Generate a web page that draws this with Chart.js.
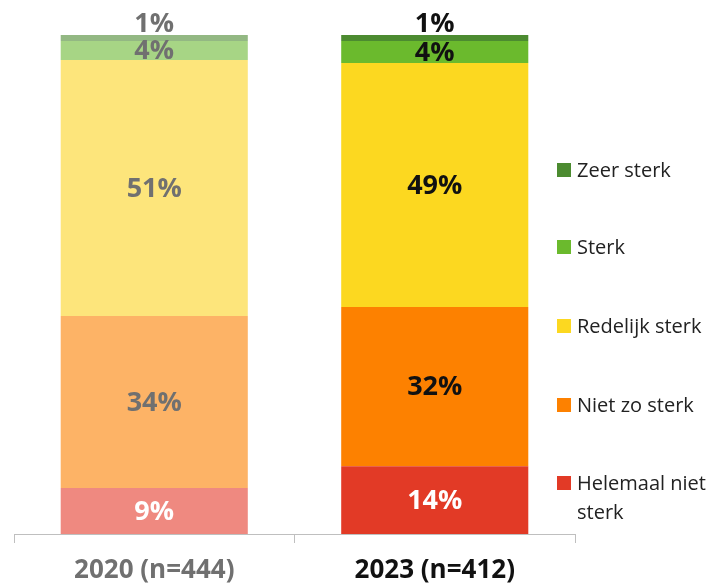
<!DOCTYPE html>
<html>
<head>
<meta charset="utf-8">
<script src="https://cdn.jsdelivr.net/npm/chart.js@4"></script>
<style>
  body { margin: 0; background: #fff; }
  #wrap { width: 712px; height: 585px; }
</style>
</head>
<body>
<div id="wrap"><canvas id="grafico"></canvas></div>
<script>
const jaren = ['2020 (n=444)', '2023 (n=412)'];
const antwoorden = ['Helemaal niet sterk', 'Niet zo sterk', 'Redelijk sterk', 'Sterk', 'Zeer sterk'];

// aandeel per antwoord, [2020, 2023]
const helemaalNiet = [9.2, 13.6];
const nietZo = [34.5, 31.9];
const redelijk = [51.3, 48.9];
const sterk = [3.8, 4.4];
const zeerSterk = [1.2, 1.2];

// getoonde labels
const labelsHelemaalNiet = ['9%', '14%'];
const labelsNietZo = ['34%', '32%'];
const labelsRedelijk = ['51%', '49%'];
const labelsSterk = ['4%', '4%'];
const labelsZeerSterk = ['1%', '1%'];

const kleurVol = ['#e23a26', '#fd8100', '#fcd820', '#6bba2d', '#4c8b30'];
const kleurLicht = ['#ef8980', '#fdb366', '#fde57b', '#a7d585', '#93b883'];
const tekstKleur = [
  ['#ffffff', '#ffffff'],
  ['#707070', '#111111'],
  ['#707070', '#111111'],
  ['#707070', '#111111'],
  ['#707070', '#111111']
];

const waarden = [helemaalNiet, nietZo, redelijk, sterk, zeerSterk];
const labels = [labelsHelemaalNiet, labelsNietZo, labelsRedelijk, labelsSterk, labelsZeerSterk];

const FONT = '"Open Sans", sans-serif';

const labelPlugin = {
  id: 'barLabels',
  afterDatasetsDraw(chart) {
    const ctx = chart.ctx;
    ctx.save();
    ctx.font = 'bold 27px ' + FONT;
    ctx.textAlign = 'center';
    ctx.textBaseline = 'middle';
    chart.data.datasets.forEach((ds, d) => {
      const meta = chart.getDatasetMeta(d);
      meta.data.forEach((bar, i) => {
        let y = (bar.y + bar.base) / 2;
        if (d === chart.data.datasets.length - 1) y = bar.y - 12;
        ctx.fillStyle = tekstKleur[d][i];
        ctx.fillText(labels[d][i], bar.x, y + 1);
      });
    });
    ctx.restore();
  }
};

const legendPlugin = {
  id: 'zijLegenda',
  afterDraw(chart) {
    const ctx = chart.ctx;
    ctx.save();
    ctx.font = '20px ' + FONT;
    ctx.textBaseline = 'middle';
    const ys = [483, 405, 326, 247, 170];
    antwoorden.forEach((naam, d) => {
      const y = ys[d];
      ctx.fillStyle = kleurVol[d];
      ctx.fillRect(557, y - 7, 14, 14);
      ctx.fillStyle = '#222222';
      if (naam === 'Helemaal niet sterk') {
        ctx.fillText('Helemaal niet', 577, y + 1);
        ctx.fillText('sterk', 577, y + 30);
      } else {
        ctx.fillText(naam, 577, y + 1);
      }
    });
    ctx.restore();
  }
};

const datasets = antwoorden.map((naam, d) => ({
  label: naam,
  data: waarden[d],
  backgroundColor: [kleurLicht[d], kleurVol[d]],
  borderWidth: 0,
  barPercentage: 1,
  categoryPercentage: 0.667
}));

new Chart(document.getElementById('grafico'), {
  type: 'bar',
  data: { labels: jaren, datasets: datasets },
  options: {
    responsive: true,
    maintainAspectRatio: false,
    animation: false,
    layout: { padding: { top: 35, right: 137, left: 14, bottom: 0 } },
    plugins: {
      legend: { display: false },
      tooltip: { enabled: false }
    },
    scales: {
      x: {
        stacked: true,
        afterFit(scale) { scale.height = 51; },
        border: { display: true, color: '#bfbfbf', width: 1 },
        grid: { offset: true, drawOnChartArea: false, drawTicks: true, tickLength: 9, color: '#bfbfbf' },
        ticks: {
          padding: 12,
          color: ['#707070', '#111111'],
          font: { family: FONT, size: 26, weight: 'bold' }
        }
      },
      y: {
        stacked: true,
        display: false,
        min: 0,
        max: 100
      }
    }
  },
  plugins: [labelPlugin, legendPlugin]
});
</script>
</body>
</html>
